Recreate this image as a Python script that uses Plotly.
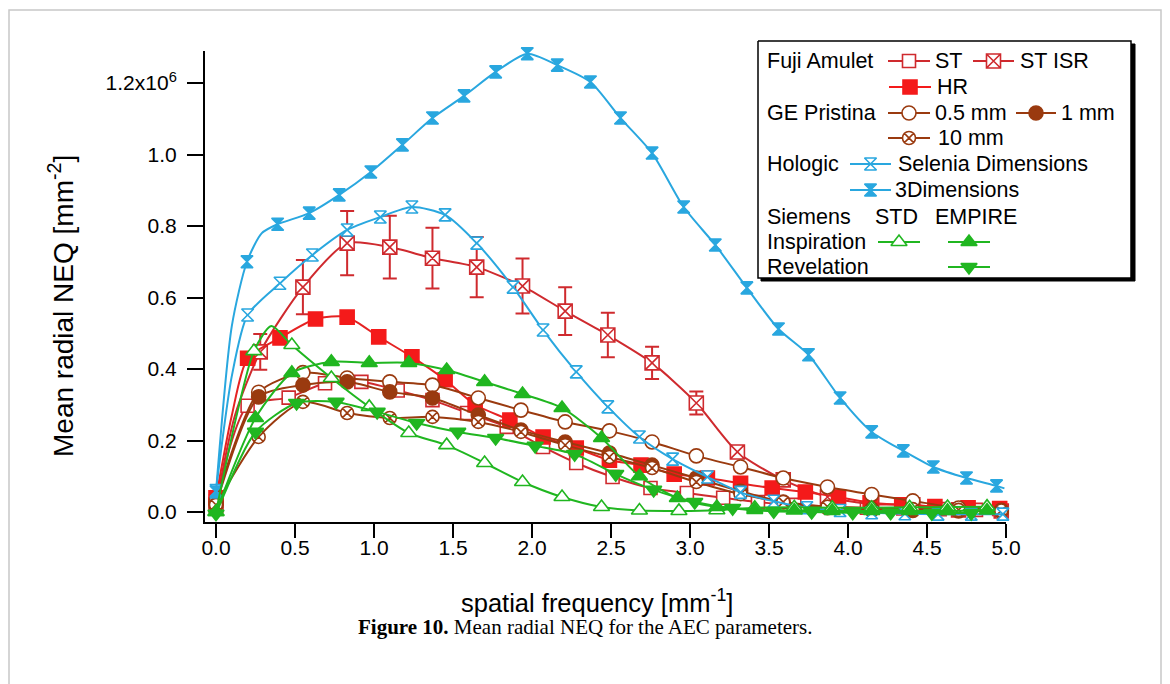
import plotly.graph_objects as go

# ---------------- data (NEQ in units of 1e6 mm^-2) ----------------
# Fuji Amulet
ST_X = [0, 0.2, 0.46, 0.69, 0.92, 1.15, 1.37, 1.59, 1.84, 2.07, 2.28, 2.51, 2.75, 2.98, 3.21, 3.43, 3.66, 3.89, 4.12, 4.35, 4.58, 4.81]
ST_Y = [0.03, 0.297, 0.32, 0.36, 0.364, 0.34, 0.313, 0.277, 0.238, 0.182, 0.137, 0.098, 0.067, 0.053, 0.04, 0.028, 0.02, 0.015, 0.012, 0.01, 0.008, 0.006]

ISR_X = [0, 0.28, 0.55, 0.83, 1.10, 1.37, 1.65, 1.94, 2.21, 2.48, 2.76, 3.04, 3.30, 3.59, 3.87, 4.15, 4.41, 4.70, 4.97]
ISR_Y = [0.02, 0.448, 0.629, 0.752, 0.741, 0.71, 0.685, 0.632, 0.562, 0.495, 0.417, 0.305, 0.168, 0.09, 0.042, 0.022, 0.02, 0.006, 0.003]
ISR_ERR = [0, 0.05, 0.076, 0.09, 0.088, 0.085, 0.084, 0.077, 0.067, 0.062, 0.045, 0.032, 0.015, 0, 0, 0, 0, 0, 0]
ISR_LINE_EXTRA_X = [0.12]
ISR_LINE_EXTRA_Y = [0.27]

HR_X = [0, 0.2, 0.405, 0.63, 0.83, 1.03, 1.24, 1.45, 1.64, 1.86, 2.07, 2.28, 2.49, 2.69, 2.9, 3.11, 3.32, 3.52, 3.73, 3.94, 4.14, 4.34, 4.55, 4.76, 4.96]
HR_Y = [0.04, 0.43, 0.487, 0.54, 0.545, 0.49, 0.434, 0.37, 0.30, 0.257, 0.21, 0.179, 0.145, 0.131, 0.106, 0.095, 0.08, 0.067, 0.056, 0.042, 0.026, 0.02, 0.015, 0.012, 0.01]
HR_LINE_EXTRA_X = [0.1]
HR_LINE_EXTRA_Y = [0.27]

# GE Pristina
GE_X = [0, 0.27, 0.55, 0.83, 1.10, 1.37, 1.66, 1.93, 2.21, 2.49, 2.76, 3.04, 3.32, 3.59, 3.87, 4.15, 4.41, 4.70, 4.97]
GE05_Y = [0.03, 0.335, 0.39, 0.375, 0.364, 0.355, 0.319, 0.285, 0.252, 0.227, 0.196, 0.157, 0.126, 0.095, 0.07, 0.049, 0.031, 0.011, 0.005]
GE1_Y = [0.02, 0.322, 0.355, 0.364, 0.336, 0.319, 0.271, 0.229, 0.196, 0.165, 0.131, 0.095, 0.058, 0.028, 0.012, 0.006, 0.004, 0.003, 0.002]
GE10_Y = [0.02, 0.21, 0.308, 0.277, 0.263, 0.266, 0.252, 0.224, 0.187, 0.154, 0.123, 0.084, 0.05, 0.028, 0.015, 0.01, 0.008, 0.006, 0.004]

# Hologic
SEL_X = [0, 0.2, 0.405, 0.61, 0.83, 1.04, 1.24, 1.45, 1.65, 1.88, 2.07, 2.28, 2.48, 2.68, 2.89, 3.11, 3.32, 3.53, 3.74, 3.95, 4.15, 4.36, 4.57, 4.78, 4.98]
SEL_Y = [0.06, 0.551, 0.64, 0.719, 0.789, 0.825, 0.853, 0.831, 0.752, 0.629, 0.509, 0.392, 0.294, 0.21, 0.148, 0.098, 0.055, 0.03, 0.012, 0.004, -0.002, -0.005, -0.006, -0.006, -0.006]
SEL_LINE_EXTRA_X = [0.1]
SEL_LINE_EXTRA_Y = [0.38]

D3_X = [0, 0.196, 0.39, 0.59, 0.78, 0.98, 1.18, 1.37, 1.57, 1.77, 1.97, 2.16, 2.37, 2.56, 2.76, 2.96, 3.16, 3.36, 3.56, 3.75, 3.95, 4.15, 4.35, 4.54, 4.75, 4.94]
D3_Y = [0.056, 0.70, 0.805, 0.836, 0.887, 0.951, 1.027, 1.102, 1.164, 1.231, 1.282, 1.25, 1.203, 1.102, 1.004, 0.853, 0.747, 0.627, 0.512, 0.44, 0.319, 0.224, 0.171, 0.126, 0.095, 0.073]
D3_LINE_EXTRA_X = [0.1, 0.29, 4.99]
D3_LINE_EXTRA_Y = [0.52, 0.78, 0.066]

# Siemens
INS_STD_X = [0, 0.24, 0.48, 0.73, 0.97, 1.22, 1.46, 1.70, 1.94, 2.19, 2.44, 2.68, 2.93, 3.17, 3.41, 3.66, 3.9, 4.15, 4.39, 4.63, 4.88]
INS_STD_Y = [0.0, 0.45, 0.467, 0.375, 0.294, 0.221, 0.187, 0.137, 0.084, 0.042, 0.014, 0.004, 0.003, 0.005, 0.012, 0.013, 0.012, 0.012, 0.013, 0.014, 0.015]
INS_STD_LINE_EXTRA_X = [0.12, 0.35]
INS_STD_LINE_EXTRA_Y = [0.25, 0.52]

INS_EMP_X = [0, 0.25, 0.48, 0.73, 0.97, 1.22, 1.46, 1.70, 1.94, 2.19, 2.44, 2.68, 2.92, 3.17, 3.41, 3.66, 3.9, 4.15, 4.39, 4.63, 4.88]
INS_EMP_Y = [0.0, 0.263, 0.389, 0.42, 0.417, 0.417, 0.397, 0.364, 0.33, 0.291, 0.207, 0.10, 0.039, 0.014, 0.006, 0.004, 0.003, 0.003, 0.003, 0.003, 0.004]

REV_EMP_X = [0, 0.25, 0.51, 0.76, 1.02, 1.27, 1.53, 1.77, 2.02, 2.27, 2.53, 2.77, 3.03, 3.27, 3.53, 3.77, 4.03, 4.27, 4.53, 4.78]
REV_EMP_Y = [-0.005, 0.224, 0.305, 0.308, 0.28, 0.249, 0.224, 0.207, 0.185, 0.162, 0.106, 0.062, 0.028, 0.011, 0.002, 0.0, -0.002, -0.002, -0.003, -0.003]

X_TICKS = [0.0, 0.5, 1.0, 1.5, 2.0, 2.5, 3.0, 3.5, 4.0, 4.5, 5.0]
X_TICK_TEXT = ["0.0", "0.5", "1.0", "1.5", "2.0", "2.5", "3.0", "3.5", "4.0", "4.5", "5.0"]
Y_TICKS = [0.0, 0.2, 0.4, 0.6, 0.8, 1.0, 1.2]
Y_TICK_TEXT = ["0.0", "0.2", "0.4", "0.6", "0.8", "1.0", "1.2x10<sup>6</sup>"]

# ---------------- styling ----------------
W, H = 1170, 684
FONT = "Liberation Sans, Arial, sans-serif"
RED_D = "#CF2A2E"
RED = "#F41A1A"
BROWN = "#9A3A0F"
BLUE = "#29A7DF"
GREEN = "#20B620"

def px_x(p):
    return p / W

def px_y(p):
    return 1 - p / H

fig = go.Figure()


def merged(xs, ys, ex=None, ey=None):
    pts = list(zip(xs, ys))
    if ex:
        pts += list(zip(ex, ey))
    pts.sort(key=lambda t: t[0])
    return [p[0] for p in pts], [p[1] for p in pts]


def add_series(xs, ys, color, symbol, fill, msize, ex=None, ey=None, err=None, lcolor=None):
    lx, ly = merged(xs, ys, ex, ey)
    fig.add_trace(go.Scatter(x=lx, y=ly, mode="lines", line=dict(color=lcolor or color, width=2, shape="spline", smoothing=0.7),
                             showlegend=False, hoverinfo="skip", cliponaxis=False))
    m = dict(symbol=symbol, size=msize, color=fill, line=dict(color=color, width=1.6))
    kw = {}
    if err is not None:
        kw["error_y"] = dict(type="data", array=err, visible=True, color=color, thickness=2, width=7)
    fig.add_trace(go.Scatter(x=xs, y=ys, mode="markers", marker=m, showlegend=False, cliponaxis=False, **kw))


add_series(ST_X, ST_Y, RED_D, "square", "white", 13)
add_series(ISR_X, ISR_Y, RED_D, "square-x", "white", 14, ISR_LINE_EXTRA_X, ISR_LINE_EXTRA_Y, err=ISR_ERR)
add_series(HR_X, HR_Y, RED, "square", RED, 14, HR_LINE_EXTRA_X, HR_LINE_EXTRA_Y, lcolor="#E52222")
add_series(GE_X, GE05_Y, BROWN, "circle", "white", 14)
add_series(GE_X, GE1_Y, BROWN, "circle", BROWN, 14)
add_series(GE_X, GE10_Y, BROWN, "circle-x", "white", 13)
add_series(SEL_X, SEL_Y, BLUE, "hourglass", "white", 12, SEL_LINE_EXTRA_X, SEL_LINE_EXTRA_Y)
add_series(D3_X, D3_Y, BLUE, "hourglass", BLUE, 12, D3_LINE_EXTRA_X, D3_LINE_EXTRA_Y)
add_series(INS_STD_X, INS_STD_Y, GREEN, "triangle-up", "white", 14, INS_STD_LINE_EXTRA_X, INS_STD_LINE_EXTRA_Y)
add_series(INS_EMP_X, INS_EMP_Y, GREEN, "triangle-up", GREEN, 14)
add_series(REV_EMP_X, REV_EMP_Y, GREEN, "triangle-down", GREEN, 14)

# ---------------- legend box (second axes in pixel units) ----------------
LX0, LX1, LY0, LY1 = 754, 1140, 36, 286
box_outer = ([761, 1135, 1135, 761, 761], [44, 44, 281, 281, 44])
box_inner = ([758, 1131, 1131, 758, 758], [41, 41, 278, 278, 41])
fig.add_trace(go.Scatter(x=box_outer[0], y=box_outer[1], xaxis="x2", yaxis="y2", mode="lines", fill="toself",
                         fillcolor="black", line=dict(color="black", width=1), showlegend=False, hoverinfo="skip"))
fig.add_trace(go.Scatter(x=box_inner[0], y=box_inner[1], xaxis="x2", yaxis="y2", mode="lines", fill="toself",
                         fillcolor="white", line=dict(color="black", width=1.5), showlegend=False, hoverinfo="skip"))

legend_samples = [
    # (x0, x1, y, color, symbol, fill, size)
    (888, 930, 61, RED_D, "square", "white", 13),
    (973, 1014, 61, RED_D, "square-x", "white", 14),
    (889, 931, 87, RED, "square", RED, 14),
    (888, 930, 113, BROWN, "circle", "white", 14),
    (1016, 1056, 113, BROWN, "circle", BROWN, 14),
    (888, 930, 138, BROWN, "circle-x", "white", 13),
    (850, 891, 164, BLUE, "hourglass", "white", 12),
    (850, 891, 190, BLUE, "hourglass", BLUE, 12),
    (878, 920, 242, GREEN, "triangle-up", "white", 14),
    (948, 990, 242, GREEN, "triangle-up", GREEN, 14),
    (948, 990, 267, GREEN, "triangle-down", GREEN, 14),
]
for x0, x1, yc, col, sym, fill, sz in legend_samples:
    fig.add_trace(go.Scatter(x=[x0, x1], y=[yc, yc], xaxis="x2", yaxis="y2", mode="lines",
                             line=dict(color=col, width=2), showlegend=False, hoverinfo="skip"))
    fig.add_trace(go.Scatter(x=[(x0 + x1) / 2], y=[yc], xaxis="x2", yaxis="y2", mode="markers",
                             marker=dict(symbol=sym, size=sz, color=fill, line=dict(color=col, width=1.6)),
                             showlegend=False, hoverinfo="skip", cliponaxis=False))

legend_texts = [
    (765, 61, "Fuji Amulet"), (933, 61, "ST"), (1018, 61, "ST ISR"),
    (935, 87, "HR"),
    (765, 113, "GE Pristina"), (933, 113, "0.5 mm"), (1059, 113, "1 mm"),
    (936, 138, "10 mm"),
    (765, 164, "Hologic"), (896, 164, "Selenia Dimensions"),
    (893, 190, "3Dimensions"),
    (765, 217, "Siemens"), (873, 217, "STD"), (933, 217, "EMPIRE"),
    (765, 242, "Inspiration"),
    (765, 267, "Revelation"),
]
annotations = []
for tx, ty, t in legend_texts:
    annotations.append(dict(x=tx, y=ty, xref="x2", yref="y2", text=t, showarrow=False, xanchor="left",
                            yanchor="middle", font=dict(family=FONT, size=21.5, color="black")))

# axis titles and caption
annotations.append(dict(x=px_x(597), y=px_y(601), xref="paper", yref="paper", showarrow=False,
                        text="spatial frequency [mm<sup>-1</sup>]", xanchor="center", yanchor="middle",
                        font=dict(family=FONT, size=25.5, color="black")))
annotations.append(dict(x=px_x(61), y=px_y(306), xref="paper", yref="paper", showarrow=False, textangle=-90,
                        text="Mean radial NEQ [mm<sup>-2</sup>]", xanchor="center", yanchor="middle",
                        font=dict(family=FONT, size=28, color="black")))
annotations.append(dict(x=px_x(585), y=px_y(627), xref="paper", yref="paper", showarrow=False,
                        text="<b>Figure 10.</b> Mean radial NEQ for the AEC parameters.", xanchor="center",
                        yanchor="middle", font=dict(family="Liberation Serif, Times New Roman, serif", size=21,
                                                    color="black")))

XD0, XD1, YD0, YD1 = 205, 1006, 51, 522
x_per_px = 5.0 / (1006 - 216)
y_per_px = 1.2 / (512 - 83)

fig.update_layout(
    width=W, height=H,
    margin=dict(l=0, r=0, t=0, b=0),
    paper_bgcolor="white", plot_bgcolor="rgba(0,0,0,0)",
    showlegend=False,
    annotations=annotations,
    shapes=[dict(type="rect", xref="paper", yref="paper", x0=px_x(9), x1=px_x(1161), y0=px_y(692), y1=px_y(10),
                 line=dict(color="#C8C8C8", width=1.5), layer="below")],
    xaxis=dict(domain=[px_x(XD0), px_x(XD1)], range=[-(216 - XD0) * x_per_px, 5.0],
               showgrid=False, zeroline=False, showline=True, linecolor="black", linewidth=2,
               ticks="outside", ticklen=14, tickwidth=2, tickcolor="black",
               tickvals=X_TICKS, ticktext=X_TICK_TEXT, automargin=False, ticklabelstandoff=-8,
               tickfont=dict(family=FONT, size=21, color="black"), fixedrange=True),
    yaxis=dict(domain=[px_y(YD1), px_y(YD0)], range=[-(YD1 - 512) * y_per_px, (512 - YD0) * y_per_px],
               showgrid=False, zeroline=False, showline=True, linecolor="black", linewidth=2,
               ticks="outside", ticklen=16, tickwidth=2, tickcolor="black",
               tickvals=Y_TICKS, ticktext=Y_TICK_TEXT, automargin=False, ticklabelstandoff=6,
               tickfont=dict(family=FONT, size=21, color="black"), fixedrange=True),
    xaxis2=dict(domain=[px_x(LX0), px_x(LX1)], range=[LX0, LX1], visible=False, fixedrange=True),
    yaxis2=dict(domain=[px_y(LY1), px_y(LY0)], range=[LY1, LY0], visible=False, fixedrange=True),
)

fig.write_html("out.html")
